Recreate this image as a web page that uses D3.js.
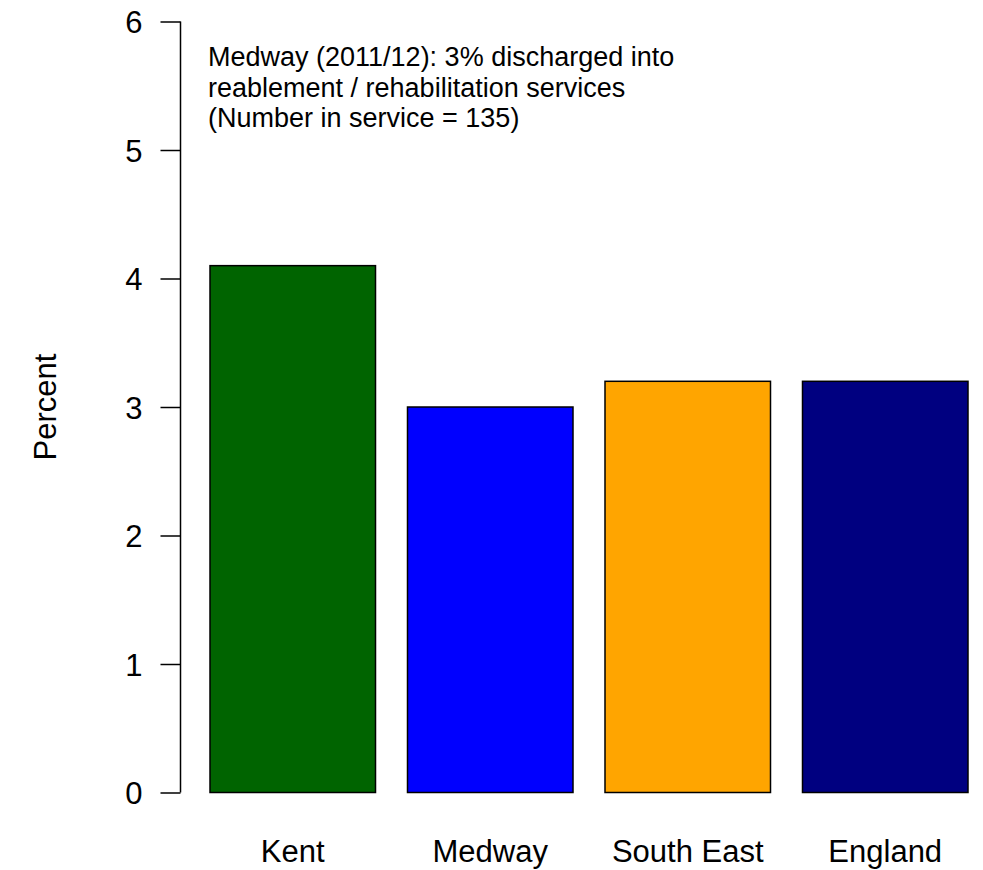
<!DOCTYPE html>
<html><head><meta charset="utf-8">
<script src="https://cdn.jsdelivr.net/npm/d3@7"></script>
<style>body{margin:0;background:#fff}svg{display:block}text{font-family:"Liberation Sans",Arial,sans-serif;fill:#000}</style>
</head><body>
<script>
const categories = ["Kent", "Medway", "South East", "England"];
const values = [4.1, 3.0, 3.2, 3.2];
const colors = ["#006400", "#0000FF", "#FFA500", "#000080"];
const yTicks = [0, 1, 2, 3, 4, 5, 6];
const annotation = ["Medway (2011/12): 3% discharged into", "reablement / rehabilitation services", "(Number in service = 135)"];

const W = 983, H = 870;
const svg = d3.select("body").append("svg").attr("width", W).attr("height", H);

const y = d3.scaleLinear().domain([0, 6]).range([792.5, 21.5]);
const x = d3.scaleBand().domain(categories).range([210, 968]).paddingInner(0.162).paddingOuter(0);

svg.selectAll("rect.bar").data(categories).join("rect")
  .attr("class", "bar")
  .attr("x", d => x(d))
  .attr("width", x.bandwidth())
  .attr("y", (d, i) => y(values[i]))
  .attr("height", (d, i) => y(0) - y(values[i]))
  .attr("fill", (d, i) => colors[i])
  .attr("stroke", "#000").attr("stroke-width", 1.5);

const yAxis = d3.axisLeft(y).tickValues(yTicks).tickSize(20).tickPadding(18).tickFormat(d3.format("d"));
const ga = svg.append("g").attr("transform", "translate(180.5,0)").call(yAxis);
ga.select(".domain").attr("d", `M0,${y(0)}V${y(6)}`).attr("stroke", "#000").attr("stroke-width", 1.5);
ga.selectAll(".tick line").attr("stroke", "#000").attr("stroke-width", 1.5);
ga.selectAll(".tick text").attr("font-size", 31).attr("text-anchor", "end").attr("dy", "0.36em").attr("font-family", "Liberation Sans, Arial, sans-serif");

svg.selectAll("text.xl").data(categories).join("text")
  .attr("class", "xl")
  .attr("x", d => x(d) + x.bandwidth() / 2)
  .attr("y", 862)
  .attr("text-anchor", "middle")
  .attr("font-size", 31)
  .text(d => d);

svg.append("text")
  .attr("transform", "translate(56,407) rotate(-90)")
  .attr("text-anchor", "middle")
  .attr("font-size", 31)
  .text("Percent");

svg.selectAll("text.ann").data(annotation).join("text")
  .attr("class", "ann")
  .attr("x", 208)
  .attr("y", (d, i) => 66 + i * 30.5)
  .attr("font-size", 27)
  .text(d => d);
</script>
</body></html>
